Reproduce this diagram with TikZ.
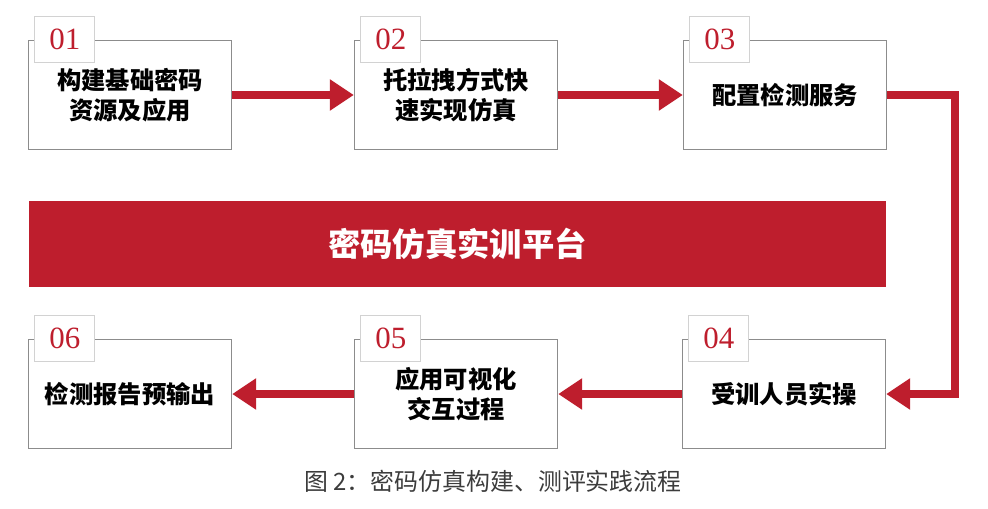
\documentclass[tikz,border=0pt]{standalone}
\usepackage{fontspec}
\setmainfont{Noto Sans CJK SC}
\newfontfamily\numfont{Liberation Serif}
\usetikzlibrary{arrows.meta}
\definecolor{flowred}{HTML}{BE1E2D}
\definecolor{framegray}{HTML}{8C8C8C}
\definecolor{taggray}{HTML}{D2D2D2}
\definecolor{captiongray}{HTML}{3C3C3C}

\begin{document}
\begin{tikzpicture}[
    x=0.025cm, y=-0.025cm,
    stepbox/.style={rectangle, draw=framegray, line width=1pt, fill=white, minimum width=5.075cm, minimum height=2.725cm, inner sep=0pt, align=center, font=\fontsize{17.3}{21.5}\selectfont\bfseries},
    tag/.style={rectangle, draw=taggray, line width=0.6pt, fill=white, minimum width=1.5cm, minimum height=1.15cm, inner sep=0pt, text=flowred, font=\numfont\fontsize{22}{22}\selectfont},
    band/.style={rectangle, fill=flowred, minimum width=21.425cm, minimum height=2.15cm, inner sep=0pt, text=white, font=\fontsize{23}{23}\selectfont\bfseries},
    arrow/.style={-{Triangle[length=0.6cm, width=0.75cm]}, draw=flowred, line width=0.21cm}
]
\useasboundingbox (0,0) rectangle (988,508);

% Steps, top row
\node[stepbox] (b1) at (130,95) {构建基础密码\\资源及应用};
\node[stepbox] (b2) at (456,95) {托拉拽方式快\\速实现仿真};
\node[stepbox] (b3) at (785,95) {配置检测服务};

% Steps, bottom row
\node[stepbox] (b4) at (784,394) {受训人员实操};
\node[stepbox] (b5) at (456,394) {应用可视化\\交互过程};
\node[stepbox] (b6) at (130,394) {检测报告预输出};

% Number tags
\node[tag] (t1) at ([xshift=0.925cm]b1.north west) {01};
\node[tag] (t2) at ([xshift=0.925cm]b2.north west) {02};
\node[tag] (t3) at ([xshift=0.925cm]b3.north west) {03};
\node[tag] (t4) at ([xshift=0.925cm]b4.north west) {04};
\node[tag] (t5) at ([xshift=0.925cm]b5.north west) {05};
\node[tag] (t6) at ([xshift=0.925cm]b6.north west) {06};

% Platform band
\node[band] (platform) at (457.5,244) {密码仿真实训平台};

% Connections
\draw[arrow] (b1) -- (b2);
\draw[arrow] (b2) -- (b3);
\draw[arrow] (b3.east) -- ++(68,0) |- (b4.east);
\draw[arrow] (b4) -- (b5);
\draw[arrow] (b5) -- (b6);

% Caption
\node[text=captiongray, font=\fontsize{17}{17}\selectfont] (caption) at (493,481) {图 2：密码仿真构建、测评实践流程};

\end{tikzpicture}
\end{document}
